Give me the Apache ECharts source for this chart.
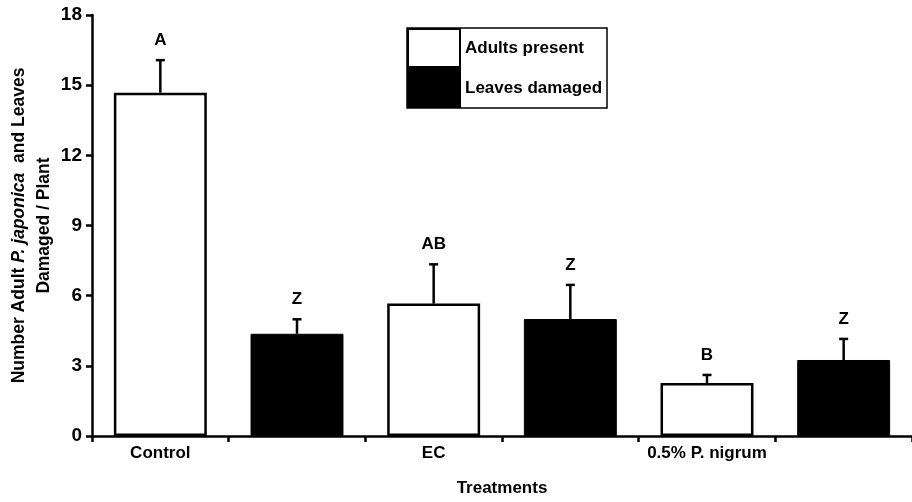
<!DOCTYPE html>
<html>
<head>
<meta charset="utf-8">
<script src="https://cdn.jsdelivr.net/npm/echarts@6/dist/echarts.min.js"></script>
<style>html,body{margin:0;padding:0;background:#fff}#c{width:912px;height:502px}</style>
</head>
<body>
<div id="c"></div>
<script>
// ---- data ----
var categories = ['Control', '', 'EC', '', '0.5% P. nigrum', ''];
var adultsPresent = [14.68, null, 5.66, null, 2.27, null];
var leavesDamaged = [null, 4.37, null, 5.0, null, 3.25];
var errorTops = [16.07, 4.99, 7.34, 6.46, 2.61, 4.15];
var letters = ['A', 'Z', 'AB', 'Z', 'B', 'Z'];
var yTicks = [0, 3, 6, 9, 12, 15, 18];

var FONT = '"Liberation Sans", Arial, sans-serif';
var means = categories.map(function (c, i) {
  return adultsPresent[i] != null ? adultsPresent[i] : leavesDamaged[i];
});
var errData = categories.map(function (c, i) { return [i, means[i], errorTops[i]]; });

var chart = echarts.init(document.getElementById('c'), null, { renderer: 'canvas' });
chart.setOption({
  animation: false,
  backgroundColor: '#fff',
  textStyle: { fontFamily: FONT },
  grid: { left: 92, right: 0, top: 15, bottom: 66, containLabel: false, outerBoundsMode: 'none' },
  legend: {
    data: ['Adults present', 'Leaves damaged'],
    orient: 'vertical',
    left: 407, top: 28,
    itemWidth: 52, itemHeight: 38, itemGap: 0,
    padding: [0, 5, 0, 0],
    borderColor: '#000', borderWidth: 1.5,
    icon: 'rect',
    textStyle: { fontFamily: FONT, fontWeight: 'bold', fontSize: 17, color: '#000' }
  },
  xAxis: {
    type: 'category',
    data: categories,
    boundaryGap: true,
    axisLine: { lineStyle: { color: '#000', width: 2.5 } },
    axisTick: { show: true, interval: 0, length: 6, lineStyle: { color: '#000', width: 2.5 } },
    axisLabel: { interval: 0, margin: 9, color: '#000', fontFamily: FONT, fontWeight: 'bold', fontSize: 17 },
    name: 'Treatments',
    nameLocation: 'middle',
    nameGap: 44,
    nameMoveOverlap: false,
    nameTextStyle: { color: '#000', fontFamily: FONT, fontWeight: 'bold', fontSize: 17 }
  },
  yAxis: {
    type: 'value',
    min: yTicks[0], max: yTicks[yTicks.length - 1], interval: 3,
    splitLine: { show: false },
    axisLine: { show: true, lineStyle: { color: '#000', width: 2.5 } },
    axisTick: { show: true, length: 6, lineStyle: { color: '#000', width: 2.5 } },
    axisLabel: { margin: 10, color: '#000', fontFamily: FONT, fontWeight: 'bold', fontSize: 19 },
    name: '{n|Number Adult }{i|P. japonica}{n|  and Leaves}\n{n|Damaged / Plant}',
    nameLocation: 'middle',
    nameRotate: 90,
    nameGap: 35,
    nameMoveOverlap: false,
    nameTextStyle: {
      color: '#000',
      lineHeight: 25,
      rich: {
        n: { fontFamily: FONT, fontWeight: 'bold', fontSize: 17.5, color: '#000', lineHeight: 25 },
        i: { fontFamily: FONT, fontWeight: 'bold', fontStyle: 'italic', fontSize: 17.5, color: '#000', lineHeight: 25 }
      }
    }
  },
  series: [
    {
      name: 'Adults present',
      type: 'bar',
      data: adultsPresent,
      barWidth: '68%',
      barGap: '-100%',
      itemStyle: { color: '#fff', borderColor: '#000', borderWidth: 2.5 }
    },
    {
      name: 'Leaves damaged',
      type: 'bar',
      data: leavesDamaged,
      barWidth: '68%',
      barGap: '-100%',
      itemStyle: { color: '#000', borderColor: '#000', borderWidth: 1 }
    },
    {
      name: 'err',
      type: 'custom',
      data: errData,
      encode: { x: 0, y: [1, 2] },
      z: 5,
      renderItem: function (params, api) {
        var i = api.value(0);
        var p0 = api.coord([i, api.value(1)]);
        var p1 = api.coord([i, api.value(2)]);
        return {
          type: 'group',
          children: [
            { type: 'line', shape: { x1: p0[0], y1: p0[1], x2: p1[0], y2: p1[1] }, style: { stroke: '#000', lineWidth: 2.5 } },
            { type: 'line', shape: { x1: p1[0] - 4.5, y1: p1[1], x2: p1[0] + 4.5, y2: p1[1] }, style: { stroke: '#000', lineWidth: 2.5 } },
            { type: 'text', style: { text: letters[params.dataIndex], x: p1[0], y: p1[1] - 20, align: 'center', verticalAlign: 'middle', fill: '#000', font: 'bold 17px ' + FONT } }
          ]
        };
      }
    }
  ]
});
</script>
</body>
</html>
